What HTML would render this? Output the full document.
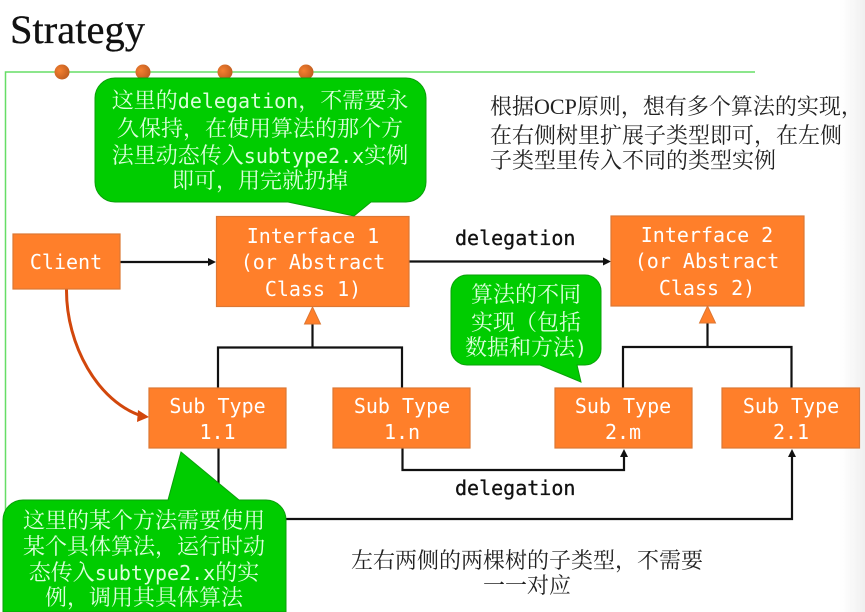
<!DOCTYPE html>
<html><head><meta charset="utf-8"><style>
html,body{margin:0;padding:0;background:#fff;width:865px;height:612px;overflow:hidden}
svg{display:block;filter:blur(0.35px)}
.m{font-family:"DejaVu Sans Mono","Liberation Mono",monospace;font-size:20px;fill:#fff;text-anchor:middle}
.d{font-family:"DejaVu Sans Mono","Liberation Mono",monospace;font-size:20px;fill:#111;stroke:#111;stroke-width:.3}
.c{font-family:"Noto Serif CJK SC",serif;font-size:22px;fill:#dcffdc;text-anchor:middle}
.c tspan{font-family:"DejaVu Sans Mono",monospace;font-size:20px}
.t{font-family:"Noto Serif CJK SC",serif;font-size:22px;fill:#222}
.t tspan{font-family:"Liberation Serif",serif}
.b{fill:#ff7f2a;stroke:#dd7733;stroke-width:1.2}
.g{fill:#00cc00;stroke:#0aa00a;stroke-width:1}
.l{fill:none;stroke:#111;stroke-width:2.2}
</style></head><body>
<svg width="865" height="612" viewBox="0 0 865 612" xmlns="http://www.w3.org/2000/svg">
<defs><linearGradient id="e" x1="0" x2="1" y1="0" y2="0"><stop offset="0" stop-color="#f2f2f2" stop-opacity="0"/><stop offset="1" stop-color="#efefef"/></linearGradient>
<radialGradient id="o" cx="0.35" cy="0.4" r="0.8"><stop offset="0" stop-color="#f58030"/><stop offset="1" stop-color="#b5561c"/></radialGradient></defs>
<rect x="840" y="0" width="25" height="612" fill="url(#e)"/>
<text x="10" y="43" font-family="Liberation Serif,serif" font-size="40" fill="#111" stroke="#111" stroke-width=".3" textLength="135" lengthAdjust="spacingAndGlyphs">Strategy</text>
<path d="M5.500 612V72H755" fill="none" stroke="#66dd66" stroke-width="1.5"/>
<circle cx="62" cy="72" r="7.500" fill="url(#o)"/><circle cx="143" cy="72" r="7.500" fill="url(#o)"/><circle cx="225" cy="72" r="7.500" fill="url(#o)"/><circle cx="306" cy="72" r="7.500" fill="url(#o)"/>

<!-- connectors -->
<path class="l" d="M120 262H210"/><path d="M216 262l-8-4v8z" fill="#111"/>
<path class="l" d="M409 261.500H605"/><path d="M611 261.500l-8-4v8z" fill="#111"/>
<path class="l" d="M312.500 324V347.500M218 388V347.500H402V388"/>
<path class="l" d="M707.500 323V347M623 388V347H791.500V388"/>
<path d="M312.500 307l8 17h-16z" fill="#ff7f2a" stroke="#dd7733"/>
<path d="M707.500 306l8 17h-16z" fill="#ff7f2a" stroke="#dd7733"/>
<path class="l" d="M402.500 448V470H624V455"/><path d="M624 449l-4 8h8z" fill="#111"/>
<path class="l" d="M218.500 448V519H792V455"/><path d="M792 449l-4 8h8z" fill="#111"/>
<path d="M66.500 289C66 345 98 402 142 416" fill="none" stroke="#d2470c" stroke-width="3"/>
<path d="M149 417l-11-7-1 12z" fill="#d2470c"/>

<!-- boxes -->
<rect class="b" x="13" y="234" width="107" height="55"/>
<rect class="b" x="216.500" y="216.500" width="192.500" height="90"/>
<rect class="b" x="611" y="216" width="193" height="90"/>
<rect class="b" x="149" y="388" width="137" height="60"/>
<rect class="b" x="333" y="388" width="137" height="60"/>
<rect class="b" x="555" y="388" width="137" height="60"/>
<rect class="b" x="722" y="388" width="137.500" height="60"/>
<text class="m" x="66" y="269">Client</text>
<text class="m" x="313" y="243">Interface 1</text><text class="m" x="313" y="269">(or Abstract</text><text class="m" x="313" y="296">Class 1)</text>
<text class="m" x="707" y="242">Interface 2</text><text class="m" x="707" y="268">(or Abstract</text><text class="m" x="707" y="295">Class 2)</text>
<text class="m" x="217.500" y="413">Sub Type</text><text class="m" x="217.500" y="439">1.1</text>
<text class="m" x="402" y="413">Sub Type</text><text class="m" x="402" y="439">1.n</text>
<text class="m" x="623" y="413">Sub Type</text><text class="m" x="623" y="439">2.m</text>
<text class="m" x="791" y="413">Sub Type</text><text class="m" x="791" y="439">2.1</text>
<text class="d" x="455" y="245">delegation</text>
<text class="d" x="455" y="495">delegation</text>

<!-- callouts -->
<path class="g" d="M115 78H406a20 20 0 0 1 20 20V182a20 20 0 0 1-20 20H371L354 216 288 202H115a20 20 0 0 1-20-20V98a20 20 0 0 1 20-20z"/>
<text class="c" x="260" y="108">这里的<tspan>delegation</tspan>&#xFF0C;不需要永</text>
<text class="c" x="260" y="136">久保持&#xFF0C;在使用算法的那个方</text>
<text class="c" x="260" y="163">法里动态传入<tspan>subtype2.x</tspan>实例</text>
<text class="c" x="260" y="188">即可&#xFF0C;用完就扔掉</text>

<path class="g" d="M467 275H585a16 16 0 0 1 16 16V349a16 16 0 0 1-16 16H577L581 382 540 365H467a16 16 0 0 1-16-16V291a16 16 0 0 1 16-16z"/>
<text class="c" x="526" y="302">算法的不同</text>
<text class="c" x="526" y="330">实现&#xFF08;包括</text>
<text class="c" x="526" y="355">数据和方法<tspan>)</tspan></text>

<path class="g" d="M23 500H168L181 452 239 500H266a20 20 0 0 1 20 20V612H3V520a20 20 0 0 1 20-20z"/>
<text class="c" x="144" y="528">这里的某个方法需要使用</text>
<text class="c" x="144" y="554">某个具体算法&#xFF0C;运行时动</text>
<text class="c" x="144" y="580">态传入<tspan>subtype2.x</tspan>的实</text>
<text class="c" x="144" y="605">例&#xFF0C;调用其具体算法</text>

<!-- notes -->
<text class="t" x="490" y="114">根据<tspan>OCP</tspan>原则&#xFF0C;想有多个算法的实现&#xFF0C;</text>
<text class="t" x="490" y="143">在右侧树里扩展子类型即可&#xFF0C;在左侧</text>
<text class="t" x="490" y="168">子类型里传入不同的类型实例</text>
<text class="t" x="527" y="568" text-anchor="middle">左右两侧的两棵树的子类型&#xFF0C;不需要</text>
<text class="t" x="527" y="593" text-anchor="middle">一一对应</text>
</svg>
</body></html>
